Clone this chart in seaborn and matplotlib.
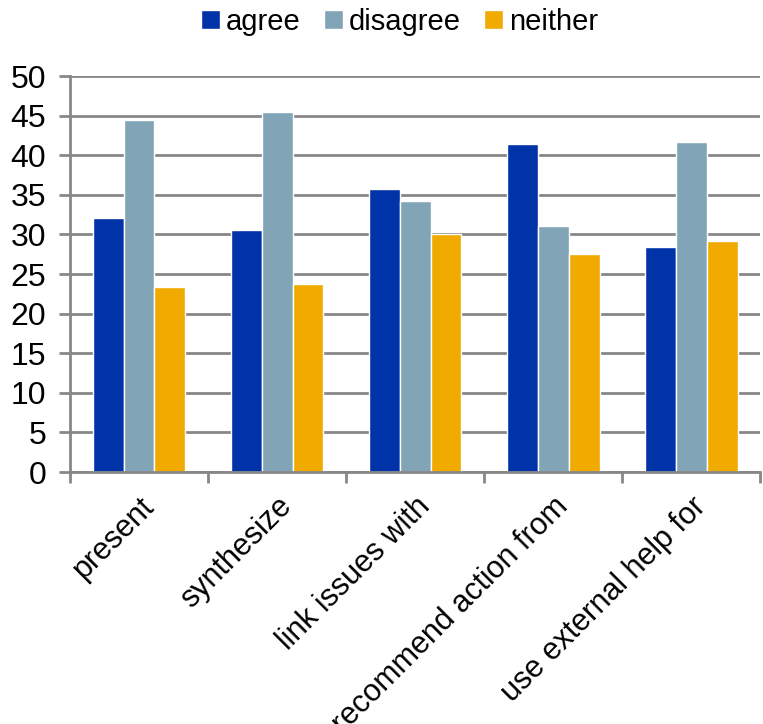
import numpy as np
import pandas as pd
import matplotlib.pyplot as plt
import seaborn as sns

categories = ["present", "synthesize", "link issues with", "recommend action from", "use external help for"]
agree = [32.1, 30.5, 35.7, 41.4, 28.4]
disagree = [44.5, 45.5, 34.2, 31.1, 41.7]
neither = [23.3, 23.8, 30.0, 27.5, 29.2]
series = ["agree", "disagree", "neither"]
colors = ["#0033A8", "#82A4B7", "#F0AA00"]

df = pd.DataFrame({"category": categories, "agree": agree, "disagree": disagree, "neither": neither})
df = df.melt(id_vars="category", var_name="response", value_name="value")

sns.set_style("white")
plt.rcParams["font.family"] = ["Liberation Sans", "DejaVu Sans"]
plt.rcParams["text.color"] = "black"
plt.rcParams["xtick.labelcolor"] = "black"
plt.rcParams["ytick.labelcolor"] = "black"

fig = plt.figure(figsize=(7.63, 7.24), dpi=100)
ax = fig.add_axes([0.0917, 0.348, 0.905, 0.547])

sns.barplot(data=df, x="category", y="value", hue="response", hue_order=series,
            palette=colors, width=0.67, saturation=1, ax=ax, legend=True)

ax.set_ylim(0, 50)
ax.set_yticks(np.arange(0, 51, 5))
ax.set_xlim(-0.5, len(categories) - 0.5)
ax.yaxis.grid(True, color="#878787", linewidth=2)
ax.set_axisbelow(True)
for s in ["top", "right"]:
    ax.spines[s].set_visible(False)
for s in ["left", "bottom"]:
    ax.spines[s].set_color("#878787")
    ax.spines[s].set_linewidth(2)

ax.set_xticks(np.arange(len(categories)))
ax.set_xticks(np.arange(-0.5, len(categories), 1), minor=True)
ax.set_xticklabels(categories, rotation=45, ha="right", rotation_mode="anchor", fontsize=22)
ax.tick_params(axis="x", which="major", length=0, pad=14, labelcolor="black")
ax.tick_params(axis="x", which="minor", length=8, width=2, color="#878787", direction="out", bottom=True)
ax.tick_params(axis="y", length=8, width=2, color="#878787", direction="out", left=True,
               labelsize=23, pad=9, labelcolor="black")
ax.set_xlabel("")
ax.set_ylabel("")

leg = ax.legend(loc="lower center", bbox_to_anchor=(0.477, 1.035), ncol=3, frameon=False,
                fontsize=21, handlelength=0.65, handleheight=0.65, handletextpad=0.2, columnspacing=0.8)
for t in leg.get_texts():
    t.set_color("black")

fig.savefig("out.png", dpi=100)
